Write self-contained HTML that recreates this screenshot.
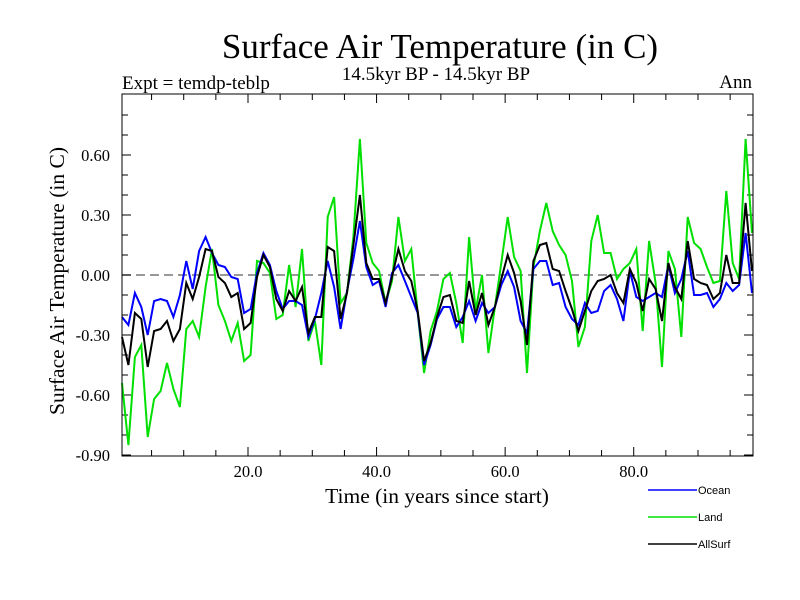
<!DOCTYPE html>
<html><head><meta charset="utf-8"><style>
body{margin:0;background:#fff;}
svg{display:block;}
text{font-family:"Liberation Serif",serif;fill:#000;}
.leg{font-family:"Liberation Sans",sans-serif;font-size:11px;}
</style></head><body>
<svg id="chart" width="800" height="600" viewBox="0 0 800 600">
<rect width="800" height="600" fill="#fff"/>
<text x="440" y="58" font-size="35" text-anchor="middle">Surface Air Temperature (in C)</text>
<text x="436" y="80" font-size="19" text-anchor="middle">14.5kyr BP - 14.5kyr BP</text>
<text x="122" y="89" font-size="19">Expt = temdp-teblp</text>
<text x="752" y="88" font-size="19" text-anchor="end">Ann</text>
<text transform="translate(64,281) rotate(-90)" font-size="21.5" text-anchor="middle">Surface Air Temperature (in C)</text>
<text x="437" y="503" font-size="21.5" text-anchor="middle">Time (in years since start)</text>
<g id="axes"></g>
<g id="series"></g>
<rect x="122" y="94" width="631" height="362" fill="none" stroke="#000" stroke-width="1"/>
<g>
<line x1="648" y1="490" x2="697" y2="490" stroke="#0000ff" stroke-width="1.5"/>
<text class="leg" x="698" y="494">Ocean</text>
<line x1="648" y1="517" x2="697" y2="517" stroke="#00e000" stroke-width="1.5"/>
<text class="leg" x="698" y="521">Land</text>
<line x1="648" y1="544" x2="697" y2="544" stroke="#000" stroke-width="1.5"/>
<text class="leg" x="698" y="548">AllSurf</text>
</g>
</svg>
<script>
const ocean = [-0.21,-0.25,-0.09,-0.16,-0.30,-0.13,-0.12,-0.13,-0.21,-0.10,0.07,-0.07,0.12,0.19,0.11,0.05,0.04,-0.01,-0.02,-0.19,-0.17,0.01,0.11,0.05,-0.08,-0.17,-0.13,-0.13,-0.15,-0.31,-0.22,-0.09,0.07,-0.06,
-0.27,-0.08,0.08,0.27,0.04,-0.05,-0.03,-0.16,0.01,0.05,-0.03,-0.11,-0.19,-0.45,-0.35,-0.22,-0.16,-0.16,-0.26,-0.21,-0.13,-0.23,-0.14,-0.19,-0.16,-0.05,0.02,-0.06,-0.23,-0.29,0.03,0.07,
0.07,-0.05,-0.04,-0.16,-0.22,-0.25,-0.14,-0.19,-0.18,-0.08,-0.05,-0.12,-0.23,0.02,-0.11,-0.13,-0.11,-0.09,-0.11,0.05,-0.09,-0.02,0.12,-0.10,-0.10,-0.09,-0.16,-0.12,-0.04,-0.08,-0.05,0.21,-0.09];
const land = [-0.54,-0.85,-0.41,-0.35,-0.81,-0.62,-0.58,-0.44,-0.57,-0.66,-0.27,-0.23,-0.31,-0.06,0.13,-0.15,-0.23,-0.33,-0.24,-0.43,-0.40,0.07,0.06,0.01,-0.22,-0.20,0.05,-0.16,0.13,-0.33,-0.23,-0.45,0.29,0.39,
-0.14,-0.09,0.19,0.68,0.16,0.06,0.02,-0.14,-0.03,0.29,0.07,0.13,-0.19,-0.49,-0.28,-0.18,-0.02,0.01,-0.14,-0.34,0.19,-0.18,0.00,-0.39,-0.16,0.06,0.29,0.09,0.02,-0.49,0.04,0.22,
0.36,0.22,0.15,0.10,-0.03,-0.36,-0.26,0.17,0.30,0.11,0.11,-0.02,0.03,0.06,0.13,-0.28,0.17,-0.04,-0.46,0.12,0.03,-0.31,0.29,0.16,0.13,0.04,-0.04,-0.03,0.42,0.06,-0.02,0.68,0.21];
const allSurf = [-0.31,-0.45,-0.19,-0.22,-0.46,-0.28,-0.27,-0.23,-0.33,-0.27,-0.04,-0.12,-0.01,0.13,0.12,-0.01,-0.04,-0.11,-0.09,-0.27,-0.24,-0.01,0.10,0.04,-0.12,-0.18,-0.08,-0.13,-0.06,-0.29,-0.21,-0.21,0.14,0.12,
-0.22,-0.09,0.15,0.40,0.06,-0.02,-0.02,-0.14,-0.01,0.13,0.02,-0.03,-0.18,-0.43,-0.34,-0.21,-0.11,-0.10,-0.23,-0.24,-0.03,-0.20,-0.09,-0.25,-0.16,-0.02,0.10,0.01,-0.13,-0.35,0.07,0.15,
0.16,0.03,0.02,-0.08,-0.17,-0.28,-0.18,-0.08,-0.03,-0.02,0.00,-0.09,-0.14,0.03,-0.04,-0.18,-0.02,-0.07,-0.23,0.06,-0.06,-0.12,0.17,-0.02,-0.04,-0.05,-0.12,-0.09,0.10,-0.04,-0.04,0.36,0.02];
const xTickValues = [20,40,60,80];
const xTickLabels = ["20.0","40.0","60.0","80.0"];
const yTickValues = [0.6,0.3,0,-0.3,-0.6,-0.9];
const yTickLabels = ["0.60","0.30","0.00","-0.30","-0.60","-0.90"];

const NS = "http://www.w3.org/2000/svg";
const X0 = 122, X1 = 752, Y0 = 94, Y1 = 456;
function xScale(t){ return X0 + (t - 1) * (X1 - X0) / 98; }
function xTickPos(t){ return xScale(t + 0.6); }
function yScale(v){ return 275 - v * 200; }
function mk(tag, attrs, parent){ const e = document.createElementNS(NS, tag); for (const k in attrs) e.setAttribute(k, attrs[k]); parent.appendChild(e); return e; }

const axes = document.getElementById('axes');
let z = mk('line', {x1:X0, x2:753, y1:yScale(0), y2:yScale(0), stroke:'#777', 'stroke-width':1.5, 'stroke-dasharray':'9,5'}, axes);


for (let i = -9; i <= 8; i++) {
  const y = yScale(i / 10);
  if (y < Y0 || y > Y1) continue;
  const major = (i % 3 === 0);
  const len = major ? 9 : 6;
  let t1 = mk('line', {x1:X0, x2:X0+len, y1:y, y2:y, stroke:'#000'}, axes);
  
  
  let t2 = mk('line', {x1:753, x2:753-len, y1:y, y2:y, stroke:'#000'}, axes);
  
  
}
yTickValues.forEach((v, i) => {
  const tx = mk('text', {x:110, y:yScale(v)+6, 'font-size':16.5, 'text-anchor':'end'}, axes);
  tx.textContent = yTickLabels[i];
  
  
});
for (let t = 5; t <= 95; t += 5) {
  const x = xTickPos(t);
  const len = (t % 20 === 0) ? 9 : 6;
  let b = mk('line', {x1:x, x2:x, y1:Y1, y2:Y1-len, stroke:'#000'}, axes);
  
  
  let tp = mk('line', {x1:x, x2:x, y1:Y0, y2:Y0+len, stroke:'#000'}, axes);
  
  
}
xTickValues.forEach((v, i) => {
  const tx = mk('text', {x:xTickPos(v), y:477, 'font-size':16.5, 'text-anchor':'middle'}, axes);
  tx.textContent = xTickLabels[i];
  
  
});

const series = document.getElementById('series');
function drawLine(vals, color, name) {
  const pts = vals.map((v, i) => xScale(i + 1).toFixed(1) + ',' + yScale(v).toFixed(1)).join(' ');
  const p = mk('polyline', {points:pts, fill:'none', stroke:color, 'stroke-width':2, 'stroke-linejoin':'miter'}, series);
  
  
}
drawLine(land, '#00e000', 'land-line');
drawLine(ocean, '#0000ff', 'ocean-line');
drawLine(allSurf, '#000000', 'allsurf-line');
</script>
</body></html>
